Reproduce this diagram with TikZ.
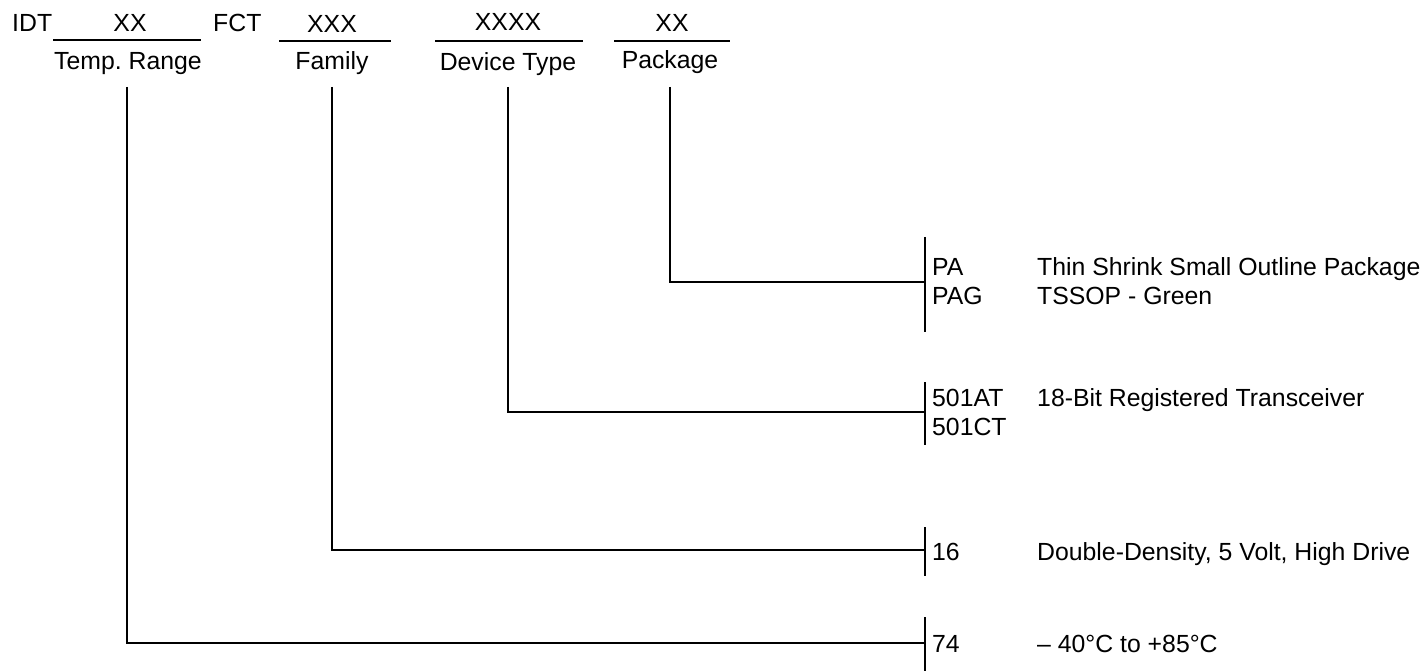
\documentclass[tikz,border=0pt]{standalone}
\usepackage{fontspec}
\setmainfont{Liberation Sans}
\frenchspacing
\begin{document}
\begin{tikzpicture}[x=1pt,y=-1pt,
  txt/.style={font=\fontsize{24.8}{29}\selectfont, inner sep=0pt, text height=17.7pt, text depth=0pt},
  rule/.style={line width=2pt},
  bar/.style={line width=2.2pt},
  conn/.style={line width=1.2pt}]
\useasboundingbox (0,0) rectangle (1427,671);
% top row
\node[txt,anchor=west] (idt) at (12,23) {IDT};
\node[txt] (xx1) at (130,23) {XX};
\node[txt,anchor=west] (fct) at (213,23) {FCT};
\node[txt] (xxx) at (332,24) {XXX};
\node[txt] (xxxx) at (508,22) {XXXX};
\node[txt] (xx2) at (672,23) {XX};
\draw[rule] (53,40) -- (201,40);
\draw[rule] (279,41) -- (391,41);
\draw[rule] (435,41) -- (583,41);
\draw[rule] (614,41) -- (730,41);
% labels
\node[txt] (temp) at (128,61) {Temp. Range};
\node[txt] (fam) at (332,61) {Family};
\node[txt] (dev) at (508,62) {Device Type};
\node[txt] (pkg) at (670,60) {Package};
% connector ends
\coordinate (tv) at (127,87);
\coordinate (fv) at (332,87);
\coordinate (dv) at (508,87);
\coordinate (pv) at (670,87);
\coordinate (b1) at (925,282);
\coordinate (b2) at (925,412);
\coordinate (b3) at (925,550);
\coordinate (b4) at (925,643);
\draw[conn] (pv) |- (b1);
\draw[conn] (dv) |- (b2);
\draw[conn] (fv) |- (b3);
\draw[conn] (tv) |- (b4);
% bars
\draw[bar] (925,237) -- (925,332);
\draw[bar] (925,382) -- (925,445);
\draw[bar] (925,527) -- (925,576);
\draw[bar] (925,617) -- (925,671);
% codes
\node[txt,anchor=west] (pa) at (932,267) {PA};
\node[txt,anchor=west] (pag) at (932,296) {PAG};
\node[txt,anchor=west] (at) at (932,398) {501AT};
\node[txt,anchor=west] (ct) at (932,427) {501CT};
\node[txt,anchor=west] (c16) at (932,552) {16};
\node[txt,anchor=west] (c74) at (932,644) {74};
% descriptions
\node[txt,anchor=west] (dpa) at (1037,267) {Thin Shrink Small Outline Package};
\node[txt,anchor=west] (dpag) at (1037,296) {TSSOP - Green};
\node[txt,anchor=west] (dat) at (1037,398) {18-Bit Registered Transceiver};
\node[txt,anchor=west] (d16) at (1037,552) {Double-Density, 5 Volt, High Drive};
\node[txt,anchor=west] (d74) at (1037,644) {– 40°C to +85°C};
\end{tikzpicture}
\end{document}
